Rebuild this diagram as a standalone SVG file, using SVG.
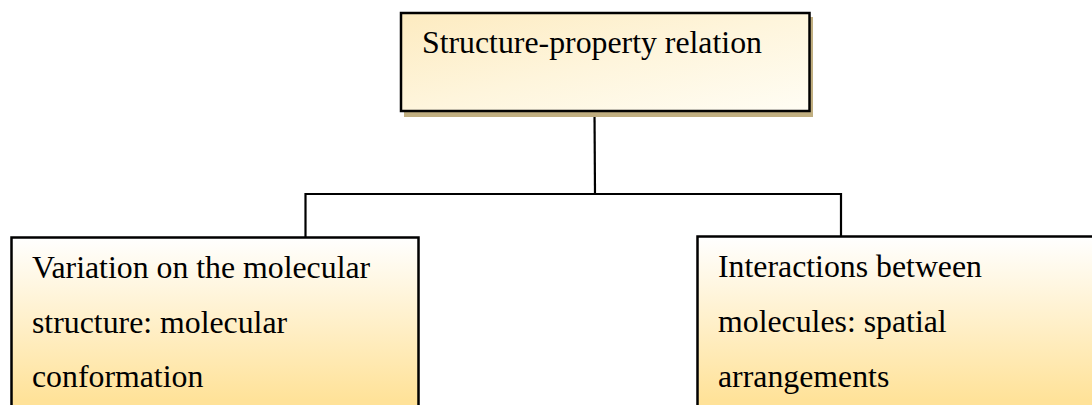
<svg xmlns="http://www.w3.org/2000/svg" width="1092" height="405" viewBox="0 0 1092 405">
  <defs>
    <linearGradient id="gTop" x1="0" y1="0" x2="1" y2="1">
      <stop offset="0" stop-color="#fdebc0"/>
      <stop offset="0.5" stop-color="#fef5dc"/>
      <stop offset="1" stop-color="#fffdf4"/>
    </linearGradient>
    <linearGradient id="gBot" gradientUnits="userSpaceOnUse" x1="0" y1="237" x2="0" y2="400">
      <stop offset="0" stop-color="#ffffff"/>
      <stop offset="1" stop-color="#ffe299"/>
    </linearGradient>
    <style>
      .box { stroke: #000; stroke-width: 2.5; }
      .lbl { font-family: "Liberation Serif", "Times New Roman", serif; font-size: 31.8px; fill: #000; }
      .conn { fill: none; stroke: #000; stroke-width: 2.2; }
    </style>
  </defs>
  <g id="connectors">
    <path class="conn" d="M594.5 111 L595 194"/>
    <path class="conn" d="M305.5 237 L305.5 194 L841 194 L841 237"/>
  </g>
  <g id="node-top">
    <rect x="404" y="17" width="409" height="100" fill="#c0ae80"/>
    <rect class="box" x="401" y="13" width="408.5" height="98" fill="url(#gTop)"/>
    <text class="lbl" x="422" y="53">Structure-property relation</text>
  </g>
  <g id="node-left">
    <rect class="box" x="11.5" y="237.5" width="407" height="190" fill="url(#gBot)"/>
    <text class="lbl" x="32" y="278">Variation on the molecular</text>
    <text class="lbl" x="32" y="332.5">structure: molecular</text>
    <text class="lbl" x="32" y="387">conformation</text>
  </g>
  <g id="node-right">
    <rect class="box" x="697.5" y="236.5" width="420" height="190" fill="url(#gBot)"/>
    <text class="lbl" x="718" y="277">Interactions between</text>
    <text class="lbl" x="718" y="332">molecules: spatial</text>
    <text class="lbl" x="718" y="387">arrangements</text>
  </g>
</svg>
